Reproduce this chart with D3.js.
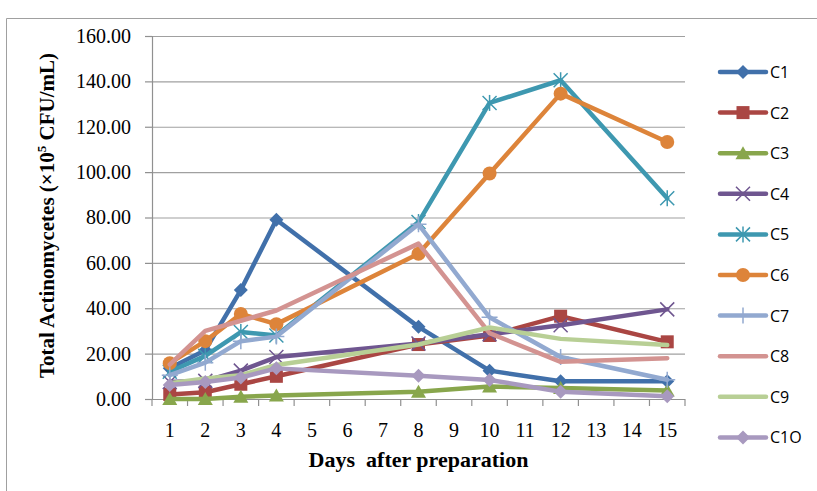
<!DOCTYPE html>
<html>
<head>
<meta charset="utf-8">
<script src="https://cdn.jsdelivr.net/npm/d3@7"></script>
<style>
  body { margin: 0; background: #fff; }
  svg { display: block; }
</style>
</head>
<body>
<svg width="817" height="491"></svg>
<script>

  // DATA

  var dayTicks = ["1","2","3","4","5","6","7","8","9","10","11","12","13","14","15"];
  var days = ["1","2","3","4","8","10","12","15"];
  var yTicks = [0, 20, 40, 60, 80, 100, 120, 140, 160];

  var c1  = [13.6, 21.5, 48.0, 79.0, 31.8, 12.5, 7.8, 7.8];
  var c2  = [2.0, 3.0, 6.5, 10.0, 24.0, 28.0, 36.5, 25.2];
  var c3  = [0.0, 0.0, 1.0, 1.5, 3.2, 5.5, 4.8, 3.8];
  var c4  = [7.5, 8.0, 12.5, 18.5, 24.5, 28.5, 32.5, 39.5];
  var c5  = [12.0, 19.0, 29.5, 28.0, 78.0, 130.5, 140.5, 88.5];
  var c6  = [15.8, 25.5, 37.5, 33.0, 64.0, 99.4, 134.6, 113.3];
  var c7  = [10.5, 16.0, 25.5, 27.5, 77.0, 36.0, 18.5, 8.5];
  var c8  = [15.2, 30.0, 34.5, 39.0, 68.5, 29.0, 16.4, 18.0];
  var c9  = [7.0, 9.0, 10.5, 15.0, 24.0, 31.5, 26.5, 23.8];
  var c10 = [6.2, 7.5, 9.5, 13.5, 10.2, 8.4, 3.2, 1.2];

  var seriesNames = ["C1","C2","C3","C4","C5","C6","C7","C8","C9","C1O"];
  var seriesValues = [c1, c2, c3, c4, c5, c6, c7, c8, c9, c10];
  var seriesColors = ["#4170aa","#aa4643","#88a64c","#6f5690","#3e98b0","#dd843a","#92a9d0","#d39391","#b8cf95","#a899bf"];
  var seriesMarkers = ["diamond","square","triangle","x","asterisk","circle","plus","none","none","diamond"];

  // SETUP

  var svg = d3.select("svg"),
    margin = { top: 36, left: 152, right: 132, bottom: 92 },
    width = 817 - margin.left - margin.right,
    height = 491 - margin.top - margin.bottom;

  var x = d3.scaleBand().domain(dayTicks).range([0, width]),
    y = d3.scaleLinear().domain([0, 160]).range([height, 0]);

  var serif = "Liberation Serif, Times New Roman, serif";

  // outer chart border
  svg.append("path")
    .attr("d", "M6.5,491 V18.5 H817")
    .attr("fill", "none")
    .attr("stroke", "#a0a0a0")
    .attr("stroke-width", 1);

  var g = svg.append("g")
    .attr("transform", "translate(" + margin.left + "," + margin.top + ")");

  // gridlines
  g.append("g")
    .selectAll("line")
    .data(yTicks.slice(1))
    .enter().append("line")
    .attr("x1", 0)
    .attr("x2", width)
    .attr("y1", function (d) { return y(d) + 0.5; })
    .attr("y2", function (d) { return y(d) + 0.5; })
    .attr("stroke", "#a0a0a0")
    .attr("stroke-width", 1.2);

  // y axis
  var yAxis = g.append("g")
    .attr("class", "axis axis--y")
    .call(d3.axisLeft(y).tickValues(yTicks).tickFormat(d3.format(".2f")).tickSize(7).tickPadding(14));

  // x axis: ticks sit between the categories
  var xAxis = g.append("g")
    .attr("class", "axis axis--x")
    .attr("transform", "translate(0," + height + ")");

  xAxis.append("line")
    .attr("x1", 0).attr("x2", width)
    .attr("y1", 0.5).attr("y2", 0.5)
    .attr("stroke", "#909090").attr("stroke-width", 1.2);

  xAxis.selectAll(".tk")
    .data(dayTicks.concat(["end"]))
    .enter().append("line")
    .attr("class", "tk")
    .attr("x1", function (d, i) { return i * x.bandwidth(); })
    .attr("x2", function (d, i) { return i * x.bandwidth(); })
    .attr("y1", 0).attr("y2", 7)
    .attr("stroke", "#909090").attr("stroke-width", 1.2);

  xAxis.selectAll("text")
    .data(dayTicks)
    .enter().append("text")
    .attr("x", function (d) { return x(d) + x.bandwidth() / 2; })
    .attr("y", 38)
    .attr("text-anchor", "middle")
    .attr("font-family", serif)
    .attr("font-size", 20)
    .attr("fill", "#000")
    .text(function (d) { return d; });

  yAxis.select(".domain").attr("stroke", "#909090").attr("stroke-width", 1.2);
  yAxis.selectAll(".tick line").attr("stroke", "#909090").attr("stroke-width", 1.2);
  yAxis.selectAll(".tick text")
    .attr("font-family", serif)
    .attr("font-size", 20)
    .attr("fill", "#000");

  // axis titles
  var yTitle = svg.append("text")
    .attr("transform", "translate(54," + (margin.top + height / 2 - 2) + ") rotate(-90)")
    .attr("text-anchor", "middle")
    .attr("font-family", serif)
    .attr("font-weight", "bold")
    .attr("font-size", 21)
    .attr("fill", "#000");
  yTitle.append("tspan").text("Total Actinomycetes (\u00d710");
  yTitle.append("tspan").attr("font-size", 13).attr("dy", -8).text("5");
  yTitle.append("tspan").attr("dy", 8).text(" CFU/mL)");

  svg.append("text")
    .attr("x", margin.left + width / 2)
    .attr("y", 467)
    .attr("text-anchor", "middle")
    .attr("font-family", serif)
    .attr("font-weight", "bold")
    .attr("font-size", 22)
    .attr("fill", "#000")
    .attr("xml:space", "preserve")
    .text("Days  after preparation");

  // MARKERS

  function drawMarker(sel, type, color) {
    if (type === "diamond") {
      sel.append("path").attr("d", "M0,-7 L7,0 L0,7 L-7,0 Z").attr("fill", color);
    } else if (type === "square") {
      sel.append("rect").attr("x", -6.5).attr("y", -6.5).attr("width", 13).attr("height", 13).attr("fill", color);
    } else if (type === "triangle") {
      sel.append("path").attr("d", "M0,-7 L7.5,6 L-7.5,6 Z").attr("fill", color);
    } else if (type === "circle") {
      sel.append("circle").attr("r", 7).attr("fill", color);
    } else if (type === "x" || type === "asterisk") {
      sel.append("path").attr("d", "M-7,-7 L7,7 M-7,7 L7,-7")
        .attr("stroke", color).attr("stroke-width", 1.5).attr("fill", "none");
      if (type === "asterisk") {
        sel.append("path").attr("d", "M0,-8 L0,8")
          .attr("stroke", color).attr("stroke-width", 1.5);
      }
    } else if (type === "plus") {
      sel.append("path").attr("d", "M0,-8 L0,8 M-8,0 L8,0")
        .attr("stroke", color).attr("stroke-width", 1.5);
    }
  }

  // DRAWING

  var line = d3.line()
    .x(function (d) { return x(d.day) + x.bandwidth() / 2; })
    .y(function (d) { return y(d.value); });

  seriesValues.forEach(function (vals, si) {
    var pts = vals.map(function (v, i) { return { day: days[i], value: v }; });
    var color = seriesColors[si];

    g.append("path")
      .datum(pts)
      .attr("fill", "none")
      .attr("stroke", color)
      .attr("stroke-width", 4.5)
      .attr("stroke-linejoin", "round")
      .attr("stroke-linecap", "round")
      .attr("d", line);

    g.selectAll(".m" + si)
      .data(pts)
      .enter().append("g")
      .attr("class", "m" + si)
      .attr("transform", function (d) {
        return "translate(" + (x(d.day) + x.bandwidth() / 2) + "," + y(d.value) + ")";
      })
      .each(function () { drawMarker(d3.select(this), seriesMarkers[si], color); });
  });

  // LEGEND

  var legend = svg.append("g")
    .attr("transform", "translate(720,72)");

  var items = legend.selectAll(".item")
    .data(seriesNames)
    .enter().append("g")
    .attr("class", "item")
    .attr("transform", function (d, i) { return "translate(0," + (i * 40.6) + ")"; });

  items.append("line")
    .attr("x1", 0).attr("x2", 46)
    .attr("stroke", function (d, i) { return seriesColors[i]; })
    .attr("stroke-width", 4.5)
    .attr("stroke-linecap", "round");

  items.each(function (d, i) {
    var m = d3.select(this).append("g").attr("transform", "translate(23,0)");
    drawMarker(m, seriesMarkers[i], seriesColors[i]);
  });

  items.append("text")
    .attr("x", 50)
    .attr("y", 6)
    .attr("font-family", "Open Sans, Liberation Sans, sans-serif")
    .attr("font-size", 16)
    .attr("fill", "#000")
    .text(function (d) { return d; });

</script>
</body>
</html>
